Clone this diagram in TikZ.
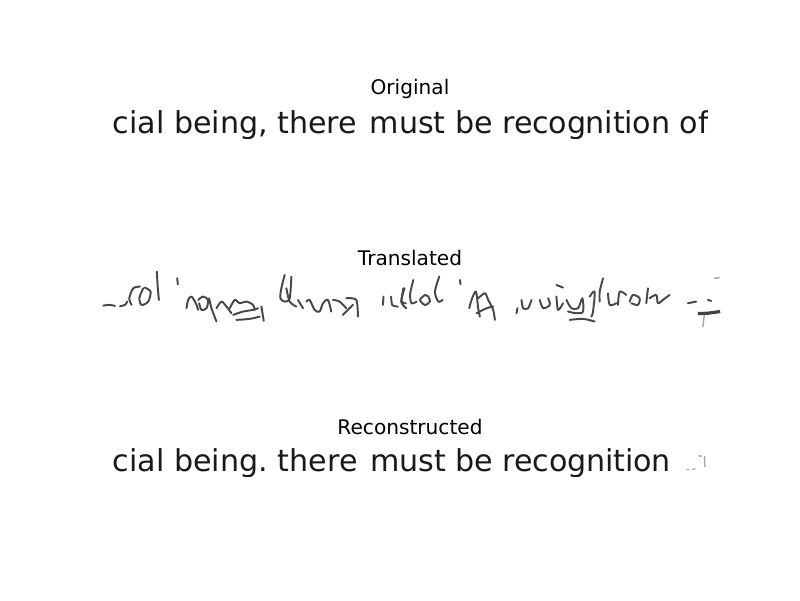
\documentclass[tikz,border=0pt]{standalone}
\usepackage{fontspec}
\setmainfont{DejaVu Sans}
\newcommand{\stroke}[2][pen]{\draw[#1] plot[smooth] coordinates {#2};}
\newcommand{\tight}[1]{{\addfontfeature{LetterSpace=-0.6}#1}}
\begin{document}
\begin{tikzpicture}[
		x=0.01cm, y=-0.01cm,
		heading/.style={font=\fontsize{5.72}{7}\selectfont, inner sep=0pt, text=black},
		strip/.style={font=\fontsize{8.57}{10}\selectfont, inner sep=0pt, anchor=base west, text=black!90},
		pen/.style={draw=black!72, line width=0.55pt, line cap=round, line join=round},
		faint/.style={draw=black!35, line width=0.4pt, line cap=round},
		bar/.style={draw=black!75, line width=0.9pt, line cap=butt}]
	\useasboundingbox (0,0) rectangle (800,600);

	% ===== Original =====
	\node[heading] (original) at (410,88.5) {Original};
	\begin{scope}
		\clip (112,100) rectangle (707,138);
		\node[strip] (originaltext) at (112,133) {cial being, there \hspace{0.8pt}must be \tight{recognition} of};
	\end{scope}

	% ===== Translated =====
	\node[heading] (translated) at (410,258) {Translated};
	\begin{scope}[shift={(90,245)}, x=0.003333cm, y=-0.003333cm]
		\stroke{(40,182)(60,180)(75,183)}
		\stroke{(90,184)(105,180)(112,170)}
		\stroke{(150,125)(130,130)(118,160)(125,180)}
		\stroke{(160,130)(148,160)(155,180)(175,170)(182,140)(165,128)}
		\stroke{(201,80)(203,120)(207,165)}
		\stroke{(262,100)(264,118)}
		\stroke{(290,190)(295,165)(305,155)(318,175)(325,195)}
		\stroke{(325,165)(340,155)(355,165)(350,190)(335,195)(328,175)}
		\stroke{(358,160)(365,190)(380,230)}
		\stroke{(380,190)(395,170)(410,185)(425,205)}
		\stroke{(420,190)(435,165)(450,175)(470,170)(490,180)(495,195)}
		\stroke{(430,210)(460,200)(490,195)(505,190)}
		\stroke{(440,225)(480,222)(510,215)}
		\stroke{(515,185)(522,228)}
		\stroke{(585,90)(575,130)(572,160)(585,170)(600,160)(605,95)}
		\stroke{(590,130)(600,170)(620,185)}
		\stroke{(625,165)(640,190)}
		\stroke{(650,170)(660,165)(675,195)(690,200)(700,175)(715,165)(725,200)}
		\stroke{(730,165)(750,170)(770,190)}
		\stroke{(770,160)(800,165)(805,215)}
		\stroke{(760,210)(790,180)}
		\stroke{(882,155)(880,180)}
		\stroke{(905,155)(908,180)(925,185)}
		\stroke{(945,130)(935,170)(950,190)}
	\end{scope}
	\begin{scope}[shift={(400,245)}, x=0.003333cm, y=-0.003333cm]
		\stroke{(10,130)(5,170)(18,175)}
		\stroke{(40,105)(30,150)(35,175)(50,170)}
		\stroke{(75,150)(60,165)(75,180)(90,170)(85,155)(75,150)}
		\stroke{(118,95)(105,140)(115,170)(128,165)}
		\stroke{(180,105)(182,118)}
		\stroke{(208,190)(215,165)(228,140)(235,190)(240,215)}
		\stroke{(235,160)(255,145)(265,165)(280,195)(285,225)}
		\stroke{(230,205)(260,190)(280,185)}
		\stroke{(350,205)(353,190)}
		\stroke{(365,165)(370,190)(385,190)(395,165)}
		\stroke{(420,165)(430,190)(450,180)(445,160)}
		\stroke{(470,120)(490,128)}
		\stroke{(470,155)(475,195)(490,175)}
		\stroke{(500,165)(515,190)(535,190)(548,160)(550,200)(530,205)(505,200)}
		\stroke{(510,225)(550,222)(585,230)}
		\stroke{(570,155)(585,140)(580,200)(575,215)}
		\stroke{(610,100)(600,140)(600,170)}
		\stroke{(625,145)(630,180)(650,175)}
		\stroke{(655,180)(660,140)(680,150)}
		\stroke{(690,170)(700,150)(720,160)(715,180)(695,175)}
		\stroke{(740,175)(745,130)}
		\stroke{(750,160)(770,150)(775,175)(790,165)(810,150)}
		\stroke{(865,175)(890,170)}
		\stroke{(925,165)(935,168)}
		\stroke[faint]{(915,205)(910,245)}
		\stroke[faint]{(945,100)(960,98)}
		\draw[bar] (895,206) -- (925,205) -- (962,200);
	\end{scope}

	% ===== Reconstructed =====
	\node[heading] (reconstructed) at (410,427) {Reconstructed};
	\begin{scope}
		\clip (112,440) rectangle (707,476);
		\node[strip] (reconstructedtext) at (112,471) {cial being.\hspace{-0.8pt} there \hspace{0.8pt}must be \tight{recognition}};
	\end{scope}
	\begin{scope}[shift={(400,410)}, x=0.003333cm, y=-0.003333cm]
		\stroke[faint]{(862,178)(868,178)}
		\stroke[faint]{(880,178)(886,177)}
		\stroke[faint]{(915,140)(916,170)}
		\stroke[faint]{(900,138)(905,138)}
	\end{scope}
\end{tikzpicture}
\end{document}
